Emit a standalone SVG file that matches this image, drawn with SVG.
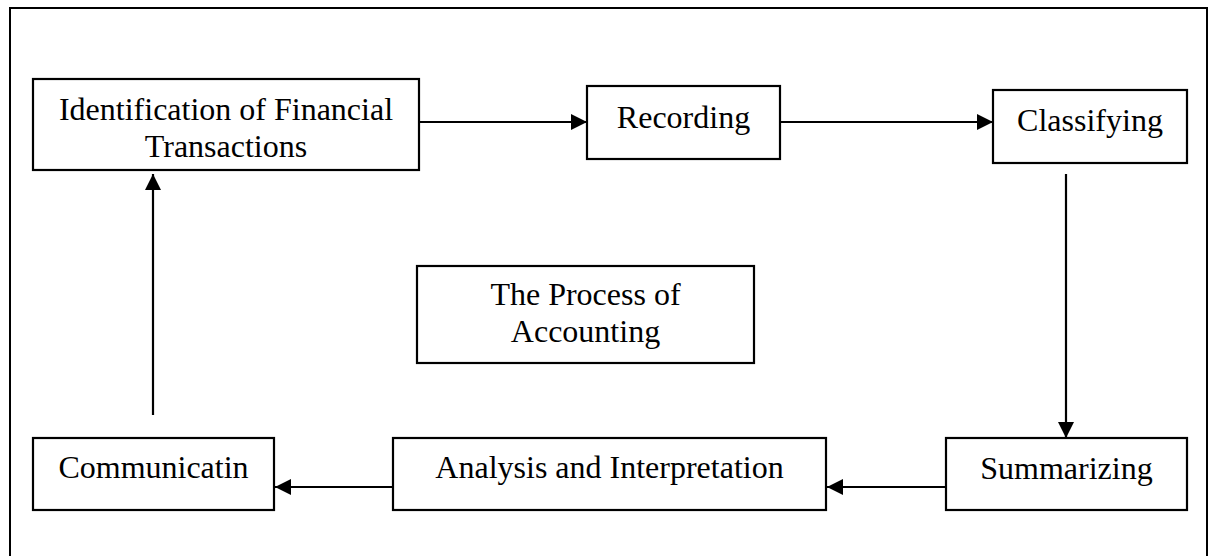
<svg xmlns="http://www.w3.org/2000/svg" width="1210" height="556" viewBox="0 0 1210 556">
<style>
.box{fill:#fff;stroke:#000;stroke-width:2.2}
.lbl{font-family:"Liberation Serif","Times New Roman",serif;font-size:32px;fill:#000;text-anchor:middle}
.conn{stroke:#000;stroke-width:2.2;fill:none}
</style>
<defs>
<marker id="ah" viewBox="0 0 16 16" refX="16" refY="8" markerWidth="16" markerHeight="16" markerUnits="userSpaceOnUse" orient="auto">
<path d="M0,0 L16,8 L0,16 Z" fill="#000"/>
</marker>
</defs>
<rect width="1210" height="556" fill="#fff"/>
<path d="M10,560 V8 H1207 V560" fill="none" stroke="#000" stroke-width="2"/>
<g id="n-identification">
<rect class="box" x="33" y="79" width="386" height="91"/>
<text class="lbl" x="226" y="120">Identification of Financial</text>
<text class="lbl" x="226" y="157">Transactions</text>
</g>
<g id="n-recording">
<rect class="box" x="587" y="86" width="193" height="73"/>
<text class="lbl" x="683.5" y="128">Recording</text>
</g>
<g id="n-classifying">
<rect class="box" x="993" y="90" width="194" height="73"/>
<text class="lbl" x="1090" y="131">Classifying</text>
</g>
<g id="n-summarizing">
<rect class="box" x="946" y="438" width="241" height="72"/>
<text class="lbl" x="1066.5" y="479">Summarizing</text>
</g>
<g id="n-analysis">
<rect class="box" x="393" y="438" width="433" height="72"/>
<text class="lbl" x="609.5" y="478">Analysis and Interpretation</text>
</g>
<g id="n-communicatin">
<rect class="box" x="33" y="438" width="241" height="72"/>
<text class="lbl" x="153.5" y="478">Communicatin</text>
</g>
<g id="n-process">
<rect class="box" x="417" y="266" width="337" height="97"/>
<text class="lbl" x="585.5" y="305">The Process of</text>
<text class="lbl" x="585.5" y="342">Accounting</text>
</g>
<g id="connectors">
<line class="conn" x1="419" y1="122" x2="587" y2="122" marker-end="url(#ah)"/>
<line class="conn" x1="780" y1="122" x2="993" y2="122" marker-end="url(#ah)"/>
<line class="conn" x1="1066" y1="174" x2="1066" y2="438" marker-end="url(#ah)"/>
<line class="conn" x1="946" y1="487" x2="827" y2="487" marker-end="url(#ah)"/>
<line class="conn" x1="393" y1="487" x2="275" y2="487" marker-end="url(#ah)"/>
<line class="conn" x1="153" y1="415" x2="153" y2="174" marker-end="url(#ah)"/>
</g>
</svg>
